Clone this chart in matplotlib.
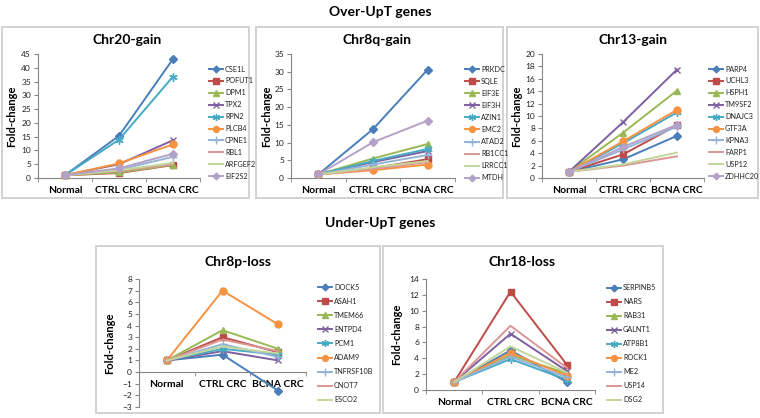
import matplotlib
matplotlib.use('Agg')
import matplotlib.pyplot as plt
from matplotlib.lines import Line2D
from matplotlib.patches import Rectangle

plt.rcParams['font.family'] = ['Lato', 'DejaVu Sans']

W, H = 760, 418

categories = ['Normal', 'CTRL CRC', 'BCNA CRC']

chr20_genes = ['CSE1L', 'POFUT1', 'DPM1', 'TPX2', 'RPN2', 'PLCB4', 'CPNE1', 'RBL1', 'ARFGEF2', 'EIF2S2']
chr20_values = [[1, 15.3, 43.2], [1, 1.8, 4.7], [1, 2.0, 4.8], [1, 5.0, 13.7], [1, 13.9, 36.8],
                [1, 5.3, 12.2], [1, 3.0, 7.7], [1, 2.5, 5.0], [1, 2.8, 5.5], [1, 3.5, 8.8]]

chr8q_genes = ['PRKDC', 'SQLE', 'EIF3E', 'EIF3H', 'AZIN1', 'EMC2', 'ATAD2', 'RB1CC1', 'LRRCC1', 'MTDH']
chr8q_values = [[1, 13.8, 30.6], [1, 2.8, 5.3], [1, 5.5, 9.6], [1, 4.5, 7.6], [1, 4.8, 8.2],
                [1, 2.2, 3.8], [1, 3.8, 6.5], [1, 2.5, 4.5], [1, 3.0, 4.8], [1, 10.1, 16.2]]

chr13_genes = ['PARP4', 'UCHL3', 'HSPH1', 'TM9SF2', 'DNAJC3', 'GTF3A', 'KPNA3', 'FARP1', 'USP12', 'ZDHHC20']
chr13_values = [[1, 3.0, 6.8], [1, 3.8, 8.5], [1, 7.3, 14.1], [1, 9.0, 17.5], [1, 5.6, 10.6],
                [1, 5.9, 11.0], [1, 4.6, 8.3], [1, 2.0, 3.5], [1, 2.2, 4.1], [1, 5.0, 8.6]]

chr8p_genes = ['DOCK5', 'ASAH1', 'TMEM66', 'ENTPD4', 'PCM1', 'ADAM9', 'TNFRSF10B', 'CNOT7', 'ESCO2']
chr8p_values = [[1, 1.5, -1.6], [1, 3.0, 1.7], [1, 3.6, 2.0], [1, 1.8, 1.0], [1, 2.0, 1.5],
                [1, 7.0, 4.1], [1, 2.4, 1.3], [1, 2.8, 1.8], [1, 2.2, 1.6]]

chr18_genes = ['SERPINB5', 'NARS', 'RAB31', 'GALNT1', 'ATP8B1', 'ROCK1', 'ME2', 'USP14', 'DSG2']
chr18_values = [[1, 5.0, 1.0], [1, 12.4, 3.2], [1, 4.4, 2.1], [1, 7.1, 2.4], [1, 3.9, 1.3],
                [1, 4.7, 1.8], [1, 4.2, 1.6], [1, 8.1, 2.8], [1, 5.5, 2.2]]

colors = ['#4A7EBB', '#BE4B48', '#98B954', '#7D60A0', '#46AAC5', '#F69240',
          '#95B3D7', '#D99694', '#C3D69B', '#B3A2C7']
markers = ['D', 's', '^', 'x', (6, 2, 0), 'o', '+', None, None, 'D']
msizes = [4, 5, 5, 5, 6, 5, 6, 0, 0, 4]

fig = plt.figure(figsize=(7.6, 4.18), dpi=100)


def fx(x):
    return x / W


def fy(y):
    return 1 - y / H


def panel(box, title, title_xy, ax_box, fold_x, genes, values, ylim, ystep,
          leg_x, leg_y0, leg_dy, zero_axis=False):
    x0, y0, x1, y1 = box
    fig.add_artist(Rectangle((fx(x0), fy(y1)), (x1 - x0) / W, (y1 - y0) / H,
                             transform=fig.transFigure, fill=False,
                             edgecolor='#CFCFCF', lw=1.3))
    fig.text(fx(title_xy[0]), fy(title_xy[1]), title, ha='center', va='center',
             fontsize=10, fontweight='bold')
    al, at, ar, ab = ax_box
    ax = fig.add_axes([fx(al), fy(ab), (ar - al) / W, (ab - at) / H])
    for s in ['top', 'right']:
        ax.spines[s].set_visible(False)
    for s in ['left', 'bottom']:
        ax.spines[s].set_color('#868686')
        ax.spines[s].set_linewidth(0.8)
    if zero_axis:
        ax.spines['bottom'].set_position(('data', 0))
    for i, (g, v) in enumerate(zip(genes, values)):
        ax.plot(range(3), v, color=colors[i], lw=1.4, marker=markers[i],
                ms=msizes[i], mew=1.0, zorder=3, clip_on=False)
    ax.set_xlim(-0.5, 2.5)
    ax.set_ylim(*ylim)
    ax.set_yticks(list(range(ylim[0], ylim[1] + 1, ystep)))
    ax.set_xticks(range(3))
    ax.set_xticklabels(categories, fontsize=7.5, fontweight='bold')
    ax.set_xticks([-0.5, 0.5, 1.5, 2.5], minor=True)
    ax.tick_params(axis='x', which='major', length=0, pad=6)
    ax.tick_params(axis='x', which='minor', length=3, color='#868686', direction='out')
    ax.tick_params(axis='y', labelsize=6, length=3, color='#868686', pad=2,
                   labelcolor='#222222')
    ax.patch.set_alpha(0)
    fig.text(fx(fold_x), fy((at + ab) / 2), 'Fold-change', rotation=90,
             ha='center', va='center', fontsize=8, fontweight='bold')
    # legend
    for i, g in enumerate(genes):
        yy = leg_y0 + i * leg_dy
        fig.add_artist(Line2D([fx(leg_x), fx(leg_x + 14)], [fy(yy), fy(yy)],
                              transform=fig.transFigure, color=colors[i], lw=1.4))
        if markers[i] is not None:
            fig.add_artist(Line2D([fx(leg_x + 7)], [fy(yy)], transform=fig.transFigure,
                                  color=colors[i], marker=markers[i],
                                  ms=msizes[i] * 0.85, mew=1.0, lw=0))
        fig.text(fx(leg_x + 16), fy(yy), g, ha='left', va='center', fontsize=5.2,
                 color='#222222')
    return ax


fig.text(0.5, fy(12), 'Over-UpT genes', ha='center', va='center', fontsize=10, fontweight='bold')
fig.text(0.5, fy(223), 'Under-UpT genes', ha='center', va='center', fontsize=10, fontweight='bold')

panel((2, 27, 249, 198), 'Chr20-gain', (127, 40), (38, 54, 200, 178), 12,
      chr20_genes, chr20_values, (0, 45), 5, 209, 69, 11.9)
panel((256, 27, 503, 198), 'Chr8q-gain', (377, 40), (291, 54, 455, 178), 267,
      chr8q_genes, chr8q_values, (0, 35), 5, 465, 69, 12.1)
panel((507, 27, 758, 198), 'Chr13-gain', (633, 40), (542, 54, 704, 178), 517,
      chr13_genes, chr13_values, (0, 20), 2, 709, 69, 11.9)
panel((96, 246, 380, 413), 'Chr8p-loss', (238, 262), (139, 279, 306, 407), 110,
      chr8p_genes, chr8p_values, (-3, 8), 1, 318, 287, 14.1, zero_axis=True)
panel((383, 246, 663, 413), 'Chr18-loss', (522, 262), (426, 279, 595, 390), 397,
      chr18_genes, chr18_values, (0, 14), 2, 607, 288, 14.0)

fig.savefig('out.png', dpi=100)
